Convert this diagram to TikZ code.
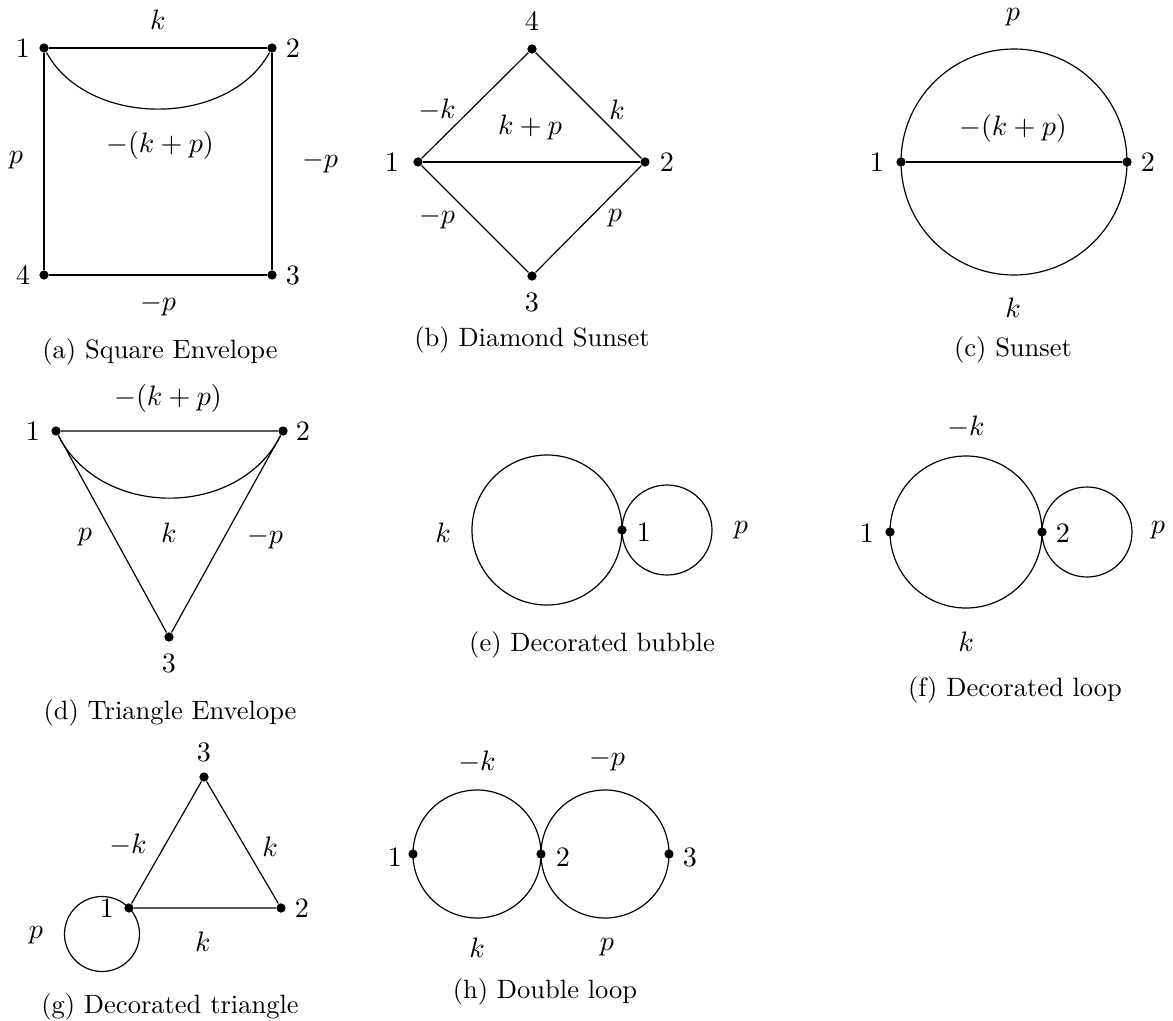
\documentclass[tikz,border=0pt]{standalone}
\usetikzlibrary{positioning}

\begin{document}
\begin{tikzpicture}[
  x=0.3774pt, y=-0.3774pt,
  vtx/.style={circle, fill, inner sep=0pt, minimum size=3.5pt},
  prop/.style={line width=.45pt},
  lbl/.style={inner sep=1pt, scale=1.06},
  capt/.style={inner sep=1pt},
]
\useasboundingbox (0,0) rectangle (1173,1021);

% ---------------- (a) square envelope
\node[vtx] (a1) at (44,48) {};
\node[vtx] (a2) at (272,48) {};
\node[vtx] (a3) at (272,275) {};
\node[vtx] (a4) at (44,275) {};
\draw[prop] (a1) -- (a2) -- (a3) -- (a4) -- (a1);
\draw[prop] (a1) .. controls +(44,80) and +(-44,80) .. (a2);
\node[lbl] at (23,48) {$1$};
\node[lbl] at (293,48) {$2$};
\node[lbl] at (293,275) {$3$};
\node[lbl] at (23,275) {$4$};
\node[lbl] at (158,20) {$k$};
\node[lbl] at (16,160) {$p$};
\node[lbl] at (160,145) {$-(k+p)$};
\node[lbl] at (320,162) {$-p$};
\node[lbl] at (158,305) {$-p$};
\node[capt] at (160,352) {(a) Square Envelope};

% ---------------- (b) diamond sunset
\node[vtx] (b1) at (418,162) {};
\node[vtx] (b2) at (645,162) {};
\node[vtx] (b3) at (532,276) {};
\node[vtx] (b4) at (532,49) {};
\draw[prop] (b1) -- (b4) -- (b2) -- (b3) -- (b1);
\draw[prop] (b1) -- (b2);
\node[lbl] at (392,162) {$1$};
\node[lbl] at (667,162) {$2$};
\node[lbl] at (532,302) {$3$};
\node[lbl] at (532,21) {$4$};
\node[lbl] at (437,110) {$-k$};
\node[lbl] at (617,110) {$k$};
\node[lbl] at (530,127) {$k+p$};
\node[lbl] at (437,218) {$-p$};
\node[lbl] at (615,218) {$p$};
\node[capt] at (532,340) {(b) Diamond Sunset};

% ---------------- (c) sunset
\coordinate (cc) at (1014,162);
\node[vtx] (c1) at (901,162) {};
\node[vtx] (c2) at (1127,162) {};
\draw[prop] (cc) circle[radius=113];
\draw[prop] (c1) -- (c2);
\node[lbl] at (877,162) {$1$};
\node[lbl] at (1148,162) {$2$};
\node[lbl] at (1013,17) {$p$};
\node[lbl] at (1013,128) {$-(k+p)$};
\node[lbl] at (1013,308) {$k$};
\node[capt] at (1013,350) {(c) Sunset};

% ---------------- (d) triangle envelope
\node[vtx] (d1) at (56,431) {};
\node[vtx] (d2) at (283,431) {};
\node[vtx] (d3) at (169,637) {};
\draw[prop] (d1) -- (d2) -- (d3) -- (d1);
\draw[prop] (d1) .. controls +(45,88) and +(-45,88) .. (d2);
\node[lbl] at (33,431) {$1$};
\node[lbl] at (303,431) {$2$};
\node[lbl] at (169,663) {$3$};
\node[lbl] at (168,398) {$-(k+p)$};
\node[lbl] at (85,537) {$p$};
\node[lbl] at (169,533) {$k$};
\node[lbl] at (265,538) {$-p$};
\node[capt] at (170,713) {(d) Triangle Envelope};

% ---------------- (e) decorated bubble
\coordinate (ebig) at (547,530);
\coordinate (esmall) at (667,530);
\node[vtx] (e1) at (622,530) {};
\draw[prop] (ebig) circle[radius=75];
\draw[prop] (esmall) circle[radius=45];
\node[lbl] at (644,532) {$1$};
\node[lbl] at (443,533) {$k$};
\node[lbl] at (741,530) {$p$};
\node[capt] at (592,645) {(e) Decorated bubble};

% ---------------- (f) decorated loop
\coordinate (fbig) at (966,532);
\coordinate (fsmall) at (1087,532);
\node[vtx] (f1) at (890,532) {};
\node[vtx] (f2) at (1042,532) {};
\draw[prop] (fbig) circle[radius=76];
\draw[prop] (fsmall) circle[radius=45];
\node[lbl] at (867,533) {$1$};
\node[lbl] at (1063,533) {$2$};
\node[lbl] at (966,427) {$-k$};
\node[lbl] at (966,642) {$k$};
\node[lbl] at (1158,530) {$p$};
\node[capt] at (1015,690) {(f) Decorated loop};

% ---------------- (g) decorated triangle
\coordinate (gloop) at (102,934);
\node[vtx] (g1) at (129,908) {};
\node[vtx] (g2) at (281,908) {};
\node[vtx] (g3) at (204,777) {};
\draw[prop] (g1) -- (g2) -- (g3) -- (g1);
\draw[prop] (gloop) circle[radius=37.5];
\node[lbl] at (107,908) {$1$};
\node[lbl] at (302,908) {$2$};
\node[lbl] at (204,752) {$3$};
\node[lbl] at (128,845) {$-k$};
\node[lbl] at (270,847) {$k$};
\node[lbl] at (203,942) {$k$};
\node[lbl] at (36,935) {$p$};
\node[capt] at (170,1007) {(g) Decorated triangle};

% ---------------- (h) double loop
\coordinate (hleft) at (477,854);
\coordinate (hright) at (605,854);
\node[vtx] (h1) at (413,854) {};
\node[vtx] (h2) at (541,854) {};
\node[vtx] (h3) at (669,854) {};
\draw[prop] (hleft) circle[radius=64];
\draw[prop] (hright) circle[radius=64];
\node[lbl] at (395,857) {$1$};
\node[lbl] at (563,857) {$2$};
\node[lbl] at (690,857) {$3$};
\node[lbl] at (477,762) {$-k$};
\node[lbl] at (607,760) {$-p$};
\node[lbl] at (477,948) {$k$};
\node[lbl] at (607,947) {$p$};
\node[capt] at (545,992) {(h) Double loop};

\end{tikzpicture}
\end{document}
